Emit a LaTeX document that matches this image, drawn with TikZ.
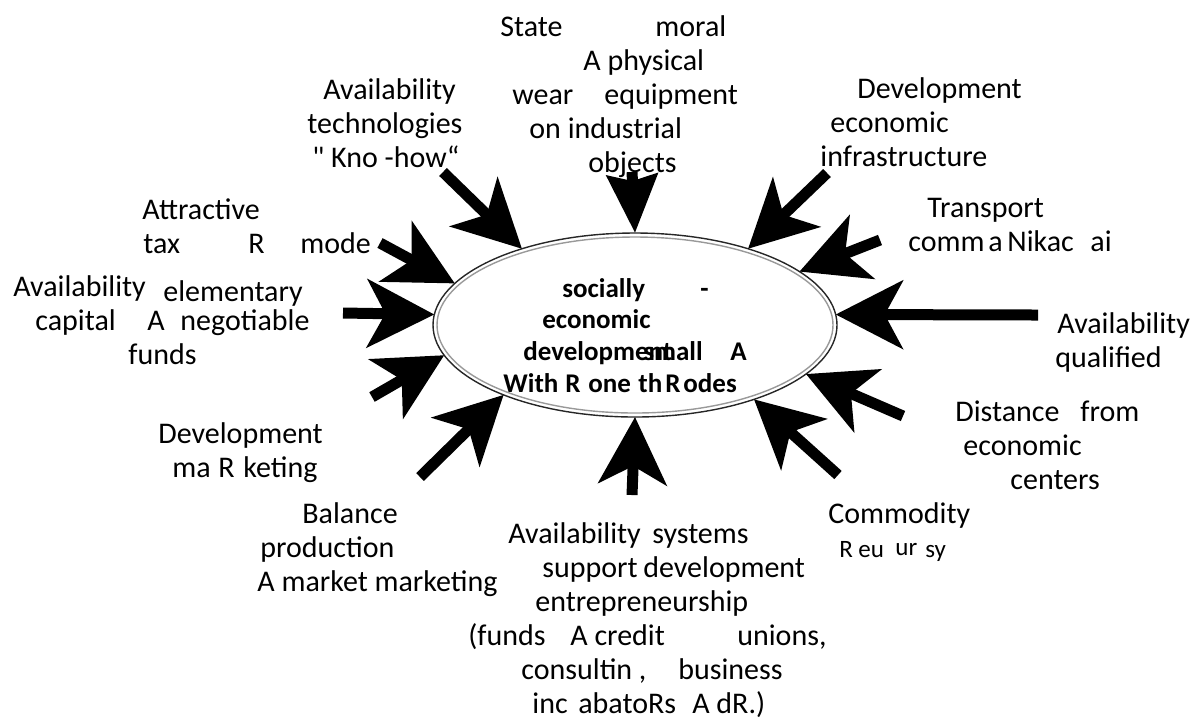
\documentclass[tikz,border=0pt]{standalone}
\usepackage{fontspec}
\setmainfont{Carlito}
\usetikzlibrary{arrows.meta,shapes.geometric}
\newcommand{\wpos}[2]{\makebox[#1][l]{#2}}
\newcommand{\straightq}{\XeTeXglyph\XeTeXcharglyph"0022\relax}
\tikzset{
  push/.style={line width=5.5pt, -{Stealth[length=33.5pt, width=34pt, inset=9pt]}},
  pushs/.style={line width=5.5pt, -{Stealth[length=29pt, width=25pt, inset=3pt]}},
  lab/.style={anchor=north west, inner sep=0pt, align=left, font=\fontsize{15}{17}\selectfont},
  corelab/.style={anchor=north west, inner sep=0pt, align=left, font=\bfseries\fontsize{13.5}{15.8}\selectfont},
  core/.style={ellipse, draw=black!85, line width=0.7pt, minimum width=202pt, minimum height=92pt, inner sep=0pt, outer sep=0pt},
}
\begin{document}
\begin{tikzpicture}[x=0.5pt,y=-0.5pt]
  \useasboundingbox (0,0) rectangle (1202,720);
  % centre
  \node[core] (core) at (635,325) {};
  \draw[black!40, line width=0.7pt] (core.center) ellipse [x radius=198, y radius=88];
  \node[corelab] (coretxt) at (503,278) {\hspace*{29.5pt}\wpos{69pt}{socially}-\\
    \hspace*{19.5pt}economic\\
    \hspace*{10pt}\wpos{60pt}{developm\rlap{ent}}\wpos{43.5pt}{small}A\\
    \wpos{31pt}{With}\wpos{11.5pt}{R}\wpos{25pt}{one}\wpos{13.5pt}{th}\wpos{9pt}{R}odes};
  % factors
  \node[lab] (lobj) at (500,15) {\wpos{77.5pt}{State}moral\\
    \hspace*{41.5pt}A physical\\
    \hspace*{6pt}\wpos{46pt}{wear}equipment\\
    \hspace*{14.5pt}on industrial\\
    \hspace*{44pt}objects};
  \node[lab] (ltech) at (307,78) {\hspace*{8pt}Availability\\
    technologies\\
    \hspace*{2.5pt}\straightq{} Kno -how“};
  \node[lab] (linfra) at (820,77) {\hspace*{18.5pt}Development\\
    \hspace*{5pt}economic\\
    infrastructure};
  \node[lab] (ltrans) at (908,198) {\hspace*{9.5pt}Transport\\
    \wpos{40pt}{comm}\wpos{9.5pt}{a}\wpos{41.5pt}{Nikac}ai};
  \node[lab] (lqual) at (1055,312) {\hspace*{1pt}Availability\\
    qualified};
  \node[lab] (ldist) at (955,400) {\wpos{62.5pt}{Distance}from\\
    \hspace*{4pt}economic\\
    \hspace*{27.5pt}centers};
  \node[lab] (lcomm) at (828,502) {Commodity\\
    {\fontsize{12.5}{17}\selectfont\hspace*{5.5pt}\wpos{9.5pt}{R}\wpos{18.5pt}{eu}\raisebox{1pt}{\wpos{15pt}{ur}}sy}};
  \node[lab] (lsupp) at (468,522) {\hspace*{20pt}\wpos{72pt}{Availability}systems\\
    \hspace*{37pt}\wpos{50.5pt}{support}development\\
    \hspace*{33.5pt}entrepreneurship\\
    \wpos{51pt}{(funds}\wpos{83.5pt}{A credit}unions,\\
    \hspace*{26.5pt}\wpos{78.5pt}{consultin ,}business\\
    \hspace*{32pt}\wpos{23pt}{inc}\wpos{57pt}{abatoRs}A dR.)};
  \node[lab] (lbal) at (257,502) {\hspace*{22.5pt}Balance\\
    \hspace*{1.5pt}production\\
    A market marketing};
  \node[lab] (lmark) at (158,422) {Development\\
    \hspace*{7pt}\wpos{23pt}{ma}\wpos{12.5pt}{R}keting};
  \node[lab] (lattr) at (142,198) {Attractive\\
    \hspace*{0.5pt}\wpos{52.5pt}{tax}\wpos{26pt}{R}mode};
  \node[lab] (lcap) at (13,275) {\wpos{75pt}{Availability}\raisebox{-2.5pt}{elementary}\\
    \hspace*{11pt}\wpos{56pt}{capital}\wpos{16.5pt}{A}negotiable\\
    \hspace*{57.5pt}funds};
  % arrow tails
  \coordinate (t1) at (632,172);
  \coordinate (t2) at (443,172);
  \coordinate (t3) at (827,173);
  \coordinate (t4) at (880,240);
  \coordinate (t5) at (1038,315);
  \coordinate (t6) at (903,416);
  \coordinate (t7) at (838,475);
  \coordinate (t8) at (632,495);
  \coordinate (t9) at (420,477);
  \coordinate (t10) at (372,397);
  \coordinate (t11) at (343,313);
  \coordinate (t12) at (380,243);
  \draw[pushs] (t1) -- (core.90);
  \draw[push] (t2) -- (core.146);
  \draw[push] (t3) -- (core.34);
  \draw[push] (t4) -- (core.18);
  \draw[push] (t5) -- (core.3);
  \draw[push] (t6) -- (core.344);
  \draw[push] (t7) -- (core.328);
  \draw[push] (t8) -- (core.270);
  \draw[push] (t9) -- (core.208);
  \draw[push] (t10) -- (core.189);
  \draw[push] (t11) -- (core.177);
  \draw[push] (t12) -- (core.167);
\end{tikzpicture}
\end{document}
